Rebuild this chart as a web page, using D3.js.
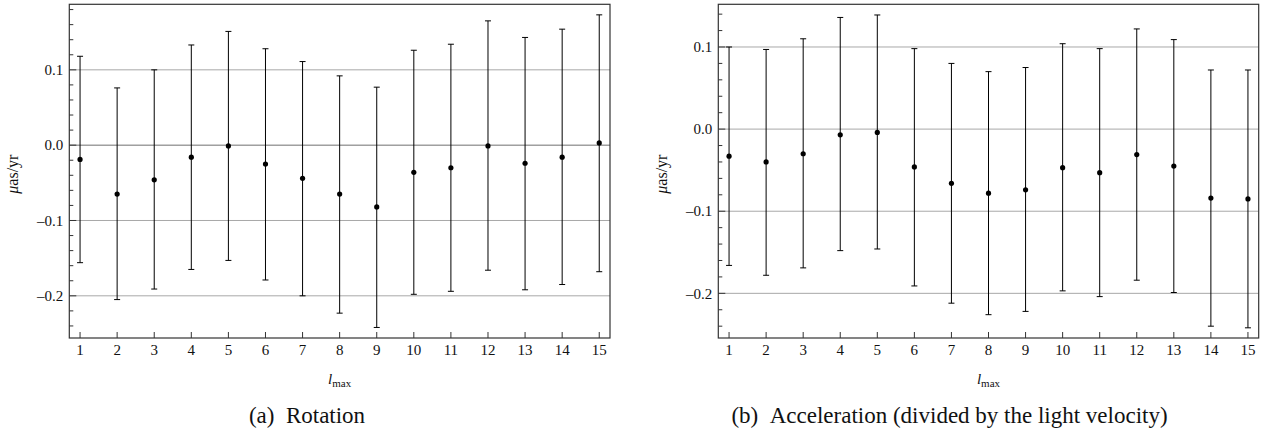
<!DOCTYPE html>
<html>
<head>
<meta charset="utf-8">
<script src="https://cdn.jsdelivr.net/npm/d3@7"></script>
<style>
  html, body { margin: 0; padding: 0; background: #fff; }
  svg { display: block; }
</style>
</head>
<body>
<svg id="chart" width="1277" height="432"></svg>
<script>
// ---- data ----
const lmax = [1, 2, 3, 4, 5, 6, 7, 8, 9, 10, 11, 12, 13, 14, 15];

const rotationValue = [-0.019, -0.065, -0.046, -0.016, -0.001, -0.025, -0.044, -0.065, -0.082, -0.036, -0.030, -0.001, -0.024, -0.016, 0.003];
const rotationUpper = [0.118, 0.076, 0.100, 0.133, 0.151, 0.128, 0.111, 0.092, 0.077, 0.126, 0.134, 0.165, 0.143, 0.154, 0.173];
const rotationLower = [-0.156, -0.205, -0.191, -0.165, -0.153, -0.179, -0.200, -0.223, -0.242, -0.198, -0.194, -0.166, -0.192, -0.185, -0.168];

const accelValue = [-0.033, -0.040, -0.030, -0.007, -0.004, -0.046, -0.066, -0.078, -0.074, -0.047, -0.053, -0.031, -0.045, -0.084, -0.085];
const accelUpper = [0.100, 0.097, 0.110, 0.136, 0.139, 0.098, 0.080, 0.070, 0.075, 0.104, 0.098, 0.122, 0.109, 0.072, 0.072];
const accelLower = [-0.166, -0.178, -0.169, -0.148, -0.146, -0.191, -0.212, -0.226, -0.222, -0.197, -0.204, -0.184, -0.199, -0.240, -0.242];

const yMajorTicks = [-0.2, -0.1, 0.0, 0.1];
const yTickLabels = ["\u20130.2", "\u20130.1", "0.0", "0.1"];
const xTickLabels = lmax.map(String);

const yAxisTitle = "\u03bcas/yr";
const captionA = "(a)\u2002Rotation";
const captionB = "(b)\u2002Acceleration (divided by the light velocity)";

// ---- drawing ----
const FONT = "'Liberation Serif', 'Times New Roman', Times, 'DejaVu Serif', serif";
const svg = d3.select("#chart")
  .attr("font-family", FONT)
  .style("font-family", FONT);

function panel(cfg) {
  const { left, right, top, bottom, yDomain, values, upper, lower, zeroColor } = cfg;
  const g = svg.append("g");
  const x = d3.scaleLinear().domain([0.71, 15.29]).range([left, right]);
  const y = d3.scaleLinear().domain(yDomain).range([bottom, top]);

  // grid lines
  g.selectAll("line.grid").data(yMajorTicks).enter().append("line")
    .attr("x1", left).attr("x2", right)
    .attr("y1", d => y(d)).attr("y2", d => y(d))
    .attr("stroke", d => d === 0 ? zeroColor : "#a8a8a8")
    .attr("stroke-width", 1);

  // minor y ticks
  const minor = d3.range(-30, 30).map(i => i * 0.02)
    .filter(v => v >= yDomain[0] && v <= yDomain[1])
    .filter(v => !yMajorTicks.some(m => Math.abs(m - v) < 1e-9));
  g.selectAll("line.minor").data(minor).enter().append("line")
    .attr("x1", left).attr("x2", left + 4)
    .attr("y1", d => y(d)).attr("y2", d => y(d))
    .attr("stroke", "#333").attr("stroke-width", 1);
  g.selectAll("line.major").data(yMajorTicks).enter().append("line")
    .attr("x1", left).attr("x2", left + 7)
    .attr("y1", d => y(d)).attr("y2", d => y(d))
    .attr("stroke", "#333").attr("stroke-width", 1);

  // y tick labels
  g.selectAll("text.ylab").data(yMajorTicks).enter().append("text")
    .attr("x", left - 6).attr("y", d => y(d))
    .attr("dy", "0.35em")
    .attr("text-anchor", "end")
    .attr("font-size", 15)
    .attr("fill", "#111")
    .text((d, i) => yTickLabels[i]);

  // x ticks
  g.selectAll("line.xt").data(lmax).enter().append("line")
    .attr("x1", d => x(d)).attr("x2", d => x(d))
    .attr("y1", bottom).attr("y2", bottom - 6)
    .attr("stroke", "#333").attr("stroke-width", 1);
  g.selectAll("text.xlab").data(lmax).enter().append("text")
    .attr("x", d => x(d)).attr("y", bottom + 17)
    .attr("text-anchor", "middle")
    .attr("font-size", 15)
    .attr("fill", "#111")
    .text((d, i) => xTickLabels[i]);

  // error bars
  const eb = g.selectAll("g.eb").data(lmax).enter().append("g");
  eb.append("line")
    .attr("x1", d => x(d)).attr("x2", d => x(d))
    .attr("y1", (d, i) => y(upper[i])).attr("y2", (d, i) => y(lower[i]))
    .attr("stroke", "#000").attr("stroke-width", 1);
  eb.append("line")
    .attr("x1", d => x(d) - 3).attr("x2", d => x(d) + 3)
    .attr("y1", (d, i) => y(upper[i])).attr("y2", (d, i) => y(upper[i]))
    .attr("stroke", "#000").attr("stroke-width", 1);
  eb.append("line")
    .attr("x1", d => x(d) - 3).attr("x2", d => x(d) + 3)
    .attr("y1", (d, i) => y(lower[i])).attr("y2", (d, i) => y(lower[i]))
    .attr("stroke", "#000").attr("stroke-width", 1);
  eb.append("circle")
    .attr("cx", d => x(d)).attr("cy", (d, i) => y(values[i]))
    .attr("r", 2.6).attr("fill", "#000");

  // frame
  g.append("rect")
    .attr("x", left).attr("y", top)
    .attr("width", right - left).attr("height", bottom - top)
    .attr("fill", "none").attr("stroke", "#333").attr("stroke-width", 1.2);

  // y axis title
  const yt = g.append("text")
    .attr("transform", `translate(${left - 51},${(top + bottom) / 2 + 3}) rotate(-90)`)
    .attr("text-anchor", "middle")
    .attr("font-size", 16)
    .attr("fill", "#111");
  yt.append("tspan").attr("font-style", "italic").text(yAxisTitle.slice(0, 1));
  yt.append("tspan").text(yAxisTitle.slice(1));

  // x axis title
  const xt = g.append("text")
    .attr("x", (left + right) / 2).attr("y", bottom + 46)
    .attr("text-anchor", "middle")
    .attr("fill", "#111");
  xt.append("tspan").attr("font-style", "italic").attr("font-size", 15).text("l");
  xt.append("tspan").attr("font-size", 11).attr("dy", 3).text("max");

  // caption
  svg.append("text")
    .attr("x", cfg.capX).attr("y", 423)
    .attr("text-anchor", "middle")
    .attr("font-size", 23)
    .attr("fill", "#111")
    .text(cfg.caption);
}

panel({
  left: 69.3, right: 610, top: 4.3, bottom: 338,
  yDomain: [-0.256, 0.187],
  values: rotationValue, upper: rotationUpper, lower: rotationLower,
  zeroColor: "#707070", caption: captionA, capX: 307
});

panel({
  left: 718.3, right: 1258.7, top: 4.3, bottom: 338,
  yDomain: [-0.2544, 0.152],
  values: accelValue, upper: accelUpper, lower: accelLower,
  zeroColor: "#a8a8a8", caption: captionB, capX: 949.5
});
</script>
</body>
</html>
